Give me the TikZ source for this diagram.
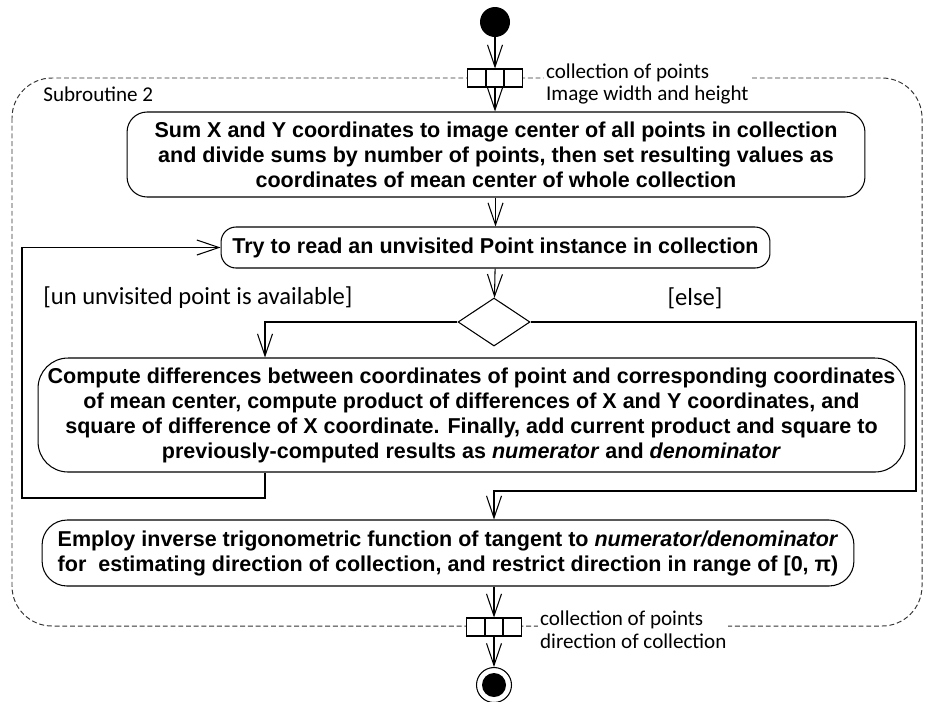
\documentclass[tikz,border=0pt]{standalone}
\usepackage{fontspec}
\setmainfont{Carlito}
\newfontfamily\boxfont{Liberation Sans}
\usetikzlibrary{arrows.meta, shapes.geometric}

\begin{document}
\begin{tikzpicture}[
  x=0.02cm, y=-0.02cm, font=\fontsize{12}{13}\selectfont,
  >={Straight Barb[length=4.4mm, width=3mm]},
  act/.style={draw, line width=0.6pt, align=center, inner sep=0pt,
              font=\boxfont\bfseries\fontsize{12.25}{14.2}\selectfont},
  pinbox/.style={draw, fill=white, line width=0.6pt, minimum width=1.1cm,
                 minimum height=0.36cm, inner sep=0pt},
  lbl/.style={align=left, inner sep=1pt, fill=white},
  guard/.style={font=\fontsize{14}{16}\selectfont},
  flow/.style={->, line width=0.6pt},
  region/.style={dash pattern=on 2.8pt off 1.6pt, black!80, line width=0.55pt,
                 rounded corners=0.8cm},
]
\useasboundingbox (0,0) rectangle (925,701);
% subroutine frame
\draw[region] (12,78) rectangle (922,626);
\node[anchor=base west, inner sep=0pt] (subname) at (43,101) {Subroutine 2};

% start and input pin
\node[circle, fill=black, minimum size=0.6cm, inner sep=0pt] (start) at (495,22) {};
\node[pinbox] (inpin) at (495,78) {};
\draw[line width=0.6pt] ([xshift=-0.18cm]inpin.north) -- ([xshift=-0.18cm]inpin.south)
  ([xshift=0.18cm]inpin.north) -- ([xshift=0.18cm]inpin.south);
\node[lbl, anchor=west] (inlbl) at (544,84) {collection of points\\Image width and height};

% actions
\node[act, rounded corners=0.4cm, minimum width=14.76cm, minimum height=1.7cm] (sum) at (496,154.5)
  {Sum X and Y coordinates to image center of all points in collection\\
   and divide sums by number of points, then set resulting values as\\
   coordinates of mean center of whole collection};
\node[act, rounded corners=0.3cm, minimum width=10.98cm, minimum height=0.82cm] (read) at (495.5,247.5)
  {Try to read an unvisited Point instance in collection};
\node[diamond, draw, line width=0.6pt, minimum width=1.44cm, minimum height=0.96cm, inner sep=0pt] (dec) at (494,322) {};
\node[guard] (yeslbl) at (198,298) {[un unvisited point is available]};
\node[guard] (elselbl) at (695,298) {[else]};
\node[act, rounded corners=0.6cm, minimum width=17.34cm, minimum height=2.28cm] (diff) at (471.5,415)
  {Compute differences between coordinates of point and corresponding coordinates\\
   of mean center, compute product of differences of X and Y coordinates, and\\
   square of difference of X coordinate. Finally, add current product and square to\\
   previously-computed results as \textit{numerator} and \textit{denominator}};
\node[act, rounded corners=0.5cm, minimum width=16.24cm, minimum height=1.32cm] (tan) at (448,553)
  {Employ inverse trigonometric function of tangent to \textit{numerator/denominator}\\
   for~ estimating direction of collection, and restrict direction in range of [0, π)};

% output pin and end
\node[pinbox] (outpin) at (494,627) {};
\draw[line width=0.6pt] ([xshift=-0.18cm]outpin.north) -- ([xshift=-0.18cm]outpin.south)
  ([xshift=0.18cm]outpin.north) -- ([xshift=0.18cm]outpin.south);
\node[lbl, anchor=west] (outlbl) at (538,630) {collection of points\\direction of collection};
\node[circle, draw, line width=0.6pt, minimum size=0.7cm, inner sep=0pt] (stop) at (494,685) {};
\node[circle, fill=black, minimum size=0.48cm, inner sep=0pt] (stopdot) at (stop) {};

% bends
\coordinate (yesx) at (265,0);
\coordinate (elsecorner) at (916,491);
\coordinate (loopcorner) at (22,498);

\draw[flow] (start) -- (inpin);
\draw[flow] (inpin.south) -- (inpin.south |- sum.north);
\draw[flow] (read.north |- sum.south) -- (read.north);
\draw[flow] (read) -- (dec);
\draw[flow] (dec.west) -| (diff.north -| yesx);
\draw[flow] (dec.east) -| (elsecorner) -| (tan.north -| dec.south);
\draw[flow] (diff.south -| yesx) |- (loopcorner) |- (read.west);
\draw[flow] (outpin.north |- tan.south) -- (outpin.north);
\draw[flow] (outpin) -- (stop);
\end{tikzpicture}
\end{document}
